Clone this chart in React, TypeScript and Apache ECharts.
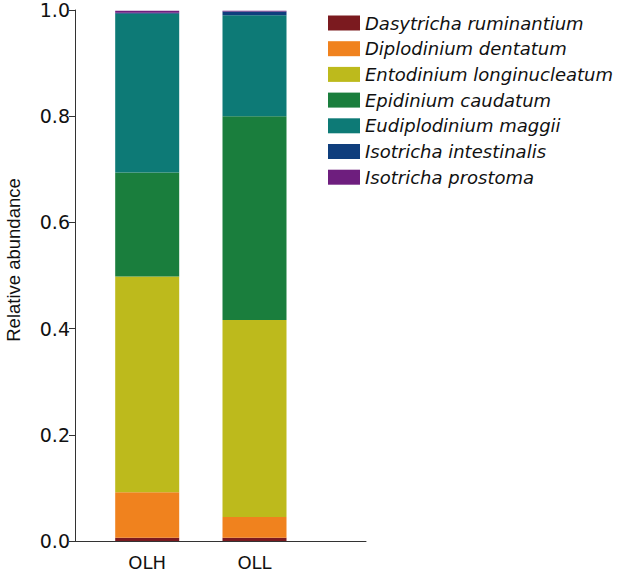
import React, { useEffect, useRef } from "react";
import * as echarts from "echarts";

const categories = ["OLH", "OLL"];
const speciesNames = [
  "Dasytricha ruminantium",
  "Diplodinium dentatum",
  "Entodinium longinucleatum",
  "Epidinium caudatum",
  "Eudiplodinium maggii",
  "Isotricha intestinalis",
  "Isotricha prostoma",
];
const dasytricha = [0.006, 0.006];
const diplodinium = [0.086, 0.039];
const entodinium = [0.406, 0.371];
const epidinium = [0.196, 0.384];
const eudiplodinium = [0.299, 0.19];
const isoIntestinalis = [0.002, 0.007];
const isoProstoma = [0.0035, 0.0015];
const yTicks = [0, 0.2, 0.4, 0.6, 0.8, 1.0];

const seriesValues = [
  dasytricha,
  diplodinium,
  entodinium,
  epidinium,
  eudiplodinium,
  isoIntestinalis,
  isoProstoma,
];
const colors = ["#7B1A1F", "#F0821E", "#BDBA1C", "#1A7E3D", "#0D7A76", "#0F3E7D", "#6E1E7E"];

export default function App() {
  const ref = useRef<HTMLDivElement>(null);
  useEffect(() => {
    if (!ref.current) return;
    const chart = echarts.init(ref.current, null, { renderer: "svg" });
    const font = "'Liberation Sans', Arial, sans-serif";
    const wide = "'DejaVu Sans', sans-serif";
    chart.setOption({
      animation: false,
      color: colors,
      grid: [
        { left: 75, top: 10, right: 251, bottom: 32, containLabel: false },
        { left: 93.55, top: 10, right: 308.85, bottom: 32, containLabel: false },
      ],
      legend: {
        orient: "vertical",
        left: 323,
        top: 9,
        itemWidth: 32,
        itemHeight: 15,
        itemGap: 7.7,
        itemStyle: { borderWidth: 0 },
        textStyle: { fontFamily: wide, fontStyle: "italic", fontSize: 18, color: "#111", lineHeight: 18 },
        itemTextGap: 13,
        icon: "rect",
        data: speciesNames,
        selectedMode: false,
      },
      xAxis: [
        {
          type: "value",
          gridIndex: 0,
          min: 0,
          max: 1,
          splitLine: { show: false },
          axisLine: { show: true, onZero: false, lineStyle: { color: "#333", width: 1 } },
          axisTick: { show: false },
          axisLabel: { show: false },
        },
        {
          type: "category",
          gridIndex: 1,
          data: categories,
          axisLine: { show: false },
          axisTick: { show: false },
          axisLabel: {
            fontFamily: wide,
            fontSize: 18,
            color: "#111",
            margin: 12,
          },
        },
      ],
      yAxis: [
        {
          type: "value",
          gridIndex: 0,
          min: 0,
          max: 1,
          interval: 0.2,
          splitLine: { show: false },
          axisLine: { show: true, lineStyle: { color: "#333", width: 1 } },
          axisTick: { show: true, length: 6, lineStyle: { color: "#333" } },
          axisLabel: {
            fontFamily: wide,
            fontSize: 19,
            color: "#111",
            margin: 5,
            formatter: (v: number) => {
              const t = yTicks.find((y) => Math.abs(y - v) < 1e-6);
              return (t ?? v).toFixed(1);
            },
          },
        },
        {
          type: "value",
          gridIndex: 1,
          min: 0,
          max: 1,
          show: false,
          splitLine: { show: false },
        },
      ],
      graphic: [
        {
          type: "text",
          x: 13,
          y: 260,
          rotation: Math.PI / 2,
          style: {
            text: "Relative abundance",
            fontFamily: font,
            fontSize: 18.5,
            fill: "#111",
            textAlign: "center",
            textVerticalAlign: "middle",
          },
        },
      ],
      series: speciesNames.map((name, i) => ({
        name,
        type: "bar",
        stack: "total",
        xAxisIndex: 1,
        yAxisIndex: 1,
        barWidth: 64,
        itemStyle: { color: colors[i] },
        data: seriesValues[i],
      })),
    });
    return () => chart.dispose();
  }, []);
  return (
    <div
      ref={ref}
      style={{ position: "absolute", left: 0, top: 0, width: 617, height: 573 }}
    />
  );
}
